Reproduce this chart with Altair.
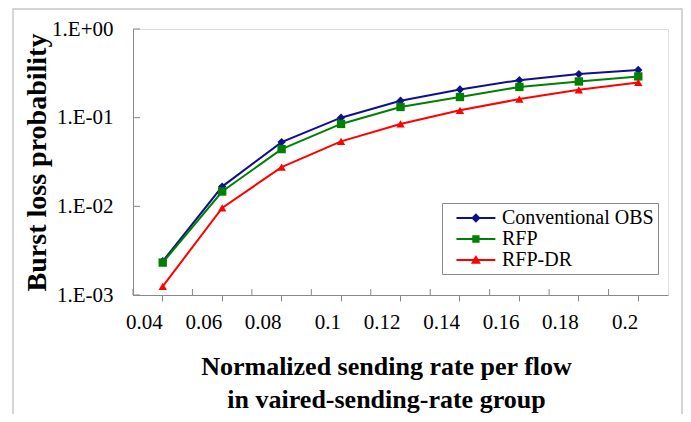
import altair as alt
import pandas as pd

# ---- data ----
x_labels = ["0.04", "0.06", "0.08", "0.1", "0.12", "0.14", "0.16", "0.18", "0.2"]
series_names = ["Conventional OBS", "RFP", "RFP-DR"]
conv_obs = [0.0024, 0.0167, 0.053, 0.100, 0.155, 0.208, 0.265, 0.310, 0.345]
rfp = [0.00232, 0.0147, 0.0442, 0.085, 0.132, 0.171, 0.222, 0.256, 0.292]
rfp_dr = [0.00125, 0.0096, 0.0277, 0.054, 0.085, 0.121, 0.162, 0.206, 0.250]
y_tick_values = [0.001, 0.01, 0.1, 1]
y_tick_labels = ["1.E-03", "1.E-02", "1.E-01", "1.E+00"]

colors = ["#10108a", "#008000", "#ff0000"]
shapes = ["diamond", "square", "triangle-up"]

# legend symbols: line segment + marker (custom paths, shifted right by 1.76 units)
seg = "M-0.05,-0.09L3.57,-0.09L3.57,0.09L-0.05,0.09Z"
legend_shapes = [
    seg + "M1.76,-0.44L2.2,0L1.76,0.44L1.32,0Z",
    seg + "M1.42,-0.34L2.1,-0.34L2.1,0.34L1.42,0.34Z",
    seg + "M1.76,-0.46L2.22,0.34L1.3,0.34Z",
]

rows = []
for name, vals in zip(series_names, [conv_obs, rfp, rfp_dr]):
    for xl, v in zip(x_labels, vals):
        rows.append({"rate": xl, "prob": v, "series": name})
df = pd.DataFrame(rows)

W, H = 535, 266
FONT = "Liberation Serif"

label_expr = " : ".join(
    f"datum.value < {v * 1.5} ? '{l}'" for v, l in zip(y_tick_values, y_tick_labels)
) + " : ''"

x_enc = alt.X(
    "rate:O",
    sort=x_labels,
    bandPosition=0.5,
    scale=alt.Scale(type="band", domain=x_labels, paddingInner=0, paddingOuter=0),
    axis=alt.Axis(
        title=["Normalized sending rate per flow", "in vaired-sending-rate group"],
        titleFont=FONT, titleFontSize=26, titleFontWeight="bold", titleColor="black",
        titleLineHeight=33, titlePadding=21, titleX=253,
        labelFont=FONT, labelFontSize=21, labelColor="black", labelPadding=21,
        labelAngle=0, tickSize=6, tickColor="#888888", domainColor="#888888",
        grid=False,
    ),
)
y_scale = alt.Scale(type="log", domain=[0.001, 1])
y_enc = alt.Y(
    "prob:Q",
    scale=y_scale,
    axis=alt.Axis(
        title="Burst loss probability",
        titleFont=FONT, titleFontSize=28, titleFontWeight="bold", titleColor="black",
        titlePadding=0,
        labelFont=FONT, labelFontSize=21, labelColor="black", labelPadding=20,
        values=y_tick_values, labelExpr=label_expr, ticks=False,
        domainColor="#888888", grid=False,
    ),
)

color_scale = alt.Scale(domain=series_names, range=colors)

lines = alt.Chart(df).mark_line(strokeWidth=2).encode(
    x=x_enc, y=y_enc,
    color=alt.Color("series:N", scale=color_scale, legend=None),
)
points = alt.Chart(df).mark_point(filled=True, size=70, opacity=1).encode(
    x=x_enc, y=y_enc,
    color=alt.Color("series:N", scale=color_scale, legend=None),
    shape=alt.Shape("series:N", scale=alt.Scale(domain=series_names, range=shapes), legend=None),
)
# legend-only layer: no rows drawn, the legend comes from the explicit scale domains
legend_layer = alt.Chart(df).transform_filter("false").mark_point(filled=True, opacity=1).encode(
    x=x_enc, y=y_enc,
    color=alt.Color(
        "series:N", scale=color_scale,
        legend=alt.Legend(
            title=None, orient="none", legendX=309, legendY=174,
            labelFont=FONT, labelFontSize=20, labelColor="black", labelOffset=34,
            symbolSize=462, symbolOpacity=1, symbolStrokeWidth=0,
            rowPadding=0, padding=4, strokeColor="#888888", fillColor="white",
        ),
    ),
    shape=alt.Shape("series:N", scale=alt.Scale(domain=series_names, range=legend_shapes)),
)

# inward minor ticks between categories (x) and at decades (y)
xt = pd.DataFrame({"rate": x_labels})
x_inner_ticks = alt.Chart(xt).mark_rule(color="#888888", strokeWidth=1).encode(
    x=alt.X("rate:O", sort=x_labels, bandPosition=0,
            scale=alt.Scale(type="band", domain=x_labels, paddingInner=0, paddingOuter=0)),
    y=alt.value(H - 6), y2=alt.value(H),
)
yt = pd.DataFrame({"prob": y_tick_values})
y_inner_ticks = alt.Chart(yt).mark_rule(color="#888888", strokeWidth=1).encode(
    y=alt.Y("prob:Q", scale=y_scale), x=alt.value(0), x2=alt.value(7),
)

frame = alt.Chart(pd.DataFrame({"k": [0]})).mark_rect(
    fillOpacity=0, stroke="#c8c8c8", strokeWidth=1.5
).encode(x=alt.value(-120), x2=alt.value(549), y=alt.value(-20), y2=alt.value(500))

chart = alt.layer(
    frame, x_inner_ticks, y_inner_ticks, lines, points, legend_layer
).resolve_scale(color="independent", shape="independent").properties(
    width=W, height=H,
    autosize=alt.AutoSizeParams(type="none"),
    padding={"left": 125, "top": 21, "right": 15, "bottom": 119},
).configure_view(stroke="#888888", strokeWidth=1).configure(background="white")

chart.save("out.html", embed_options={"renderer": "svg", "actions": False})
